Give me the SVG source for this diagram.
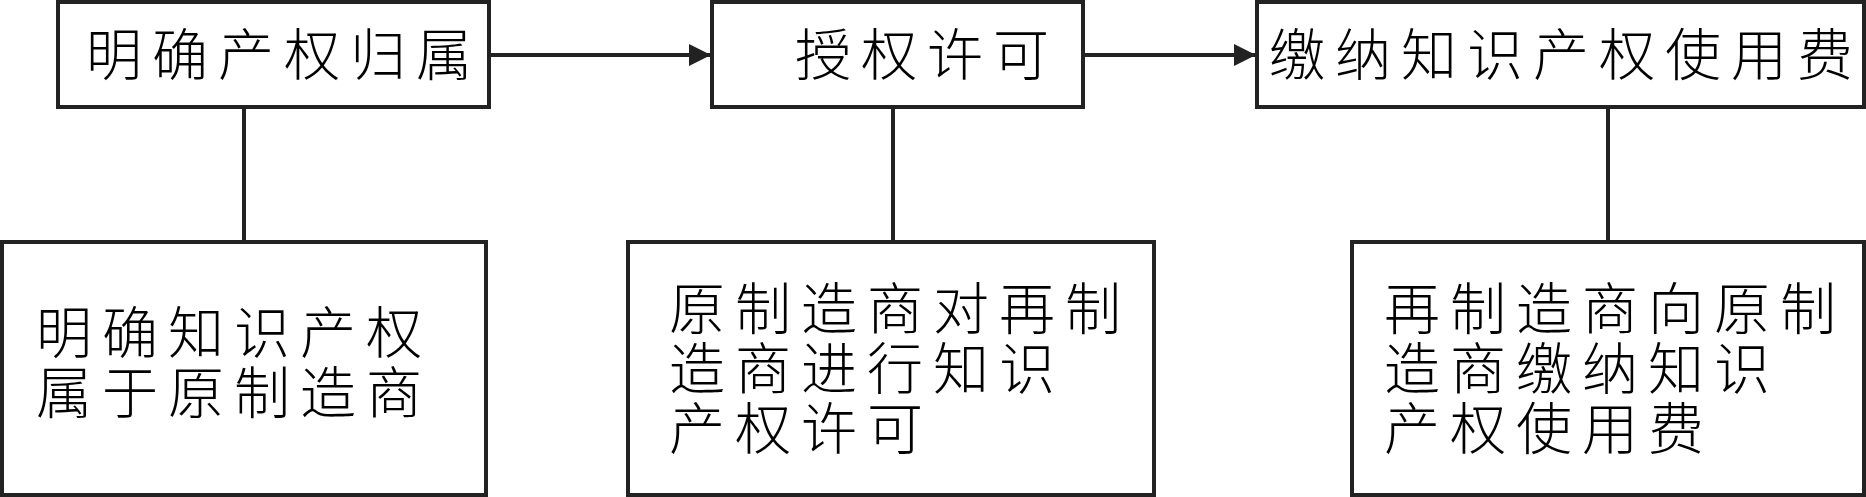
<svg xmlns="http://www.w3.org/2000/svg" width="1866" height="497" viewBox="0 0 1866 497">
<style>
.box{fill:#fff;stroke:#222;stroke-width:4}
.lbl{font-family:"Noto Sans CJK SC","Noto Sans",sans-serif;font-size:56px;letter-spacing:10px;fill:#000;font-weight:300}
.con{stroke:#222;stroke-width:4;fill:none}
</style>
<defs>
<marker id="arr" markerUnits="userSpaceOnUse" markerWidth="22" markerHeight="22" refX="21" refY="11" orient="auto">
<path d="M0,0 L22,11 L0,22 Z" fill="#222"/>
</marker>
</defs>
<rect width="1866" height="497" fill="#fff"/>
<g id="connectors">
<line class="con" x1="489" y1="55" x2="710" y2="55" marker-end="url(#arr)"/>
<line class="con" x1="1083" y1="55" x2="1255" y2="55" marker-end="url(#arr)"/>
<line class="con" x1="244" y1="107" x2="244" y2="242"/>
<line class="con" x1="893" y1="107" x2="893" y2="242"/>
<line class="con" x1="1608" y1="107" x2="1608" y2="242"/>
</g>
<g id="n1">
<rect class="box" x="58" y="2" width="431" height="105"/>
<text class="lbl" x="86" y="75">明确产权归属</text>
</g>
<g id="n2">
<rect class="box" x="712" y="2" width="371" height="105"/>
<text class="lbl" x="795" y="75">授权许可</text>
</g>
<g id="n3">
<rect class="box" x="1257" y="2" width="607" height="105"/>
<text class="lbl" x="1269" y="75">缴纳知识产权使用费</text>
</g>
<g id="n4">
<rect class="box" x="2" y="242" width="484" height="253"/>
<text class="lbl" x="36" y="353">明确知识产权</text>
<text class="lbl" x="36" y="413">属于原制造商</text>
</g>
<g id="n5">
<rect class="box" x="628" y="242" width="526" height="253"/>
<text class="lbl" x="669" y="329">原制造商对再制</text>
<text class="lbl" x="669" y="389">造商进行知识</text>
<text class="lbl" x="669" y="449">产权许可</text>
</g>
<g id="n6">
<rect class="box" x="1352" y="242" width="512" height="253"/>
<text class="lbl" x="1384" y="329">再制造商向原制</text>
<text class="lbl" x="1384" y="389">造商缴纳知识</text>
<text class="lbl" x="1384" y="449">产权使用费</text>
</g>
</svg>
